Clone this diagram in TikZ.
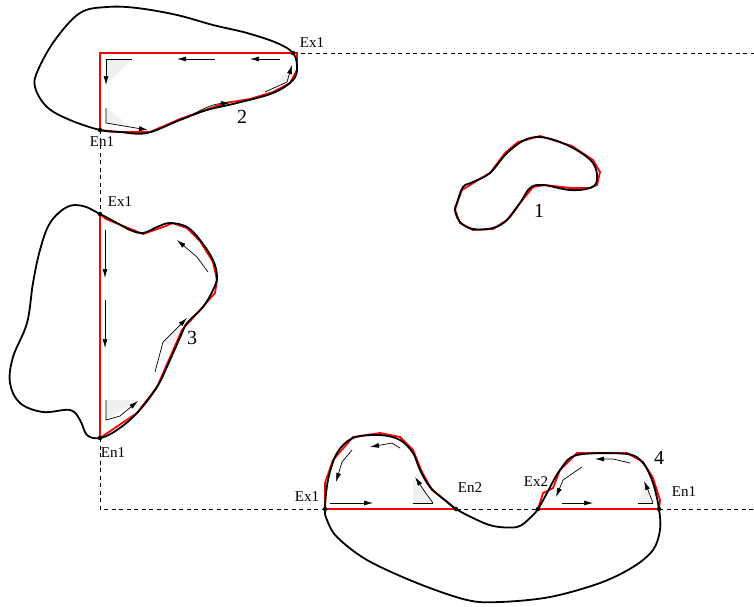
\documentclass[tikz,border=0pt]{standalone}
\usepackage{fontspec}
\setmainfont{Liberation Serif}
\usetikzlibrary{arrows.meta}
\begin{document}
\begin{tikzpicture}[x=1pt,y=-1pt,
  blob/.style={line width=1.8pt,black,line join=round},
  redp/.style={line width=1.8pt,red,line join=miter},
  guide/.style={line width=0.7pt,dash pattern=on 4pt off 3.5pt},
  arr/.style={line width=0.7pt,-{Latex[length=9pt,width=5pt]}},
  shade/.style={fill=gray!12,draw=none},
  lab/.style={font=\fontsize{15}{15}\selectfont,inner sep=0pt},
  num/.style={font=\fontsize{20}{20}\selectfont,inner sep=0pt},
  dot/.style={circle,fill=black,inner sep=0pt,minimum size=4.5pt}]
\useasboundingbox (0,0) rectangle (754,606);
% key points
\coordinate (aex) at (293,53);
\coordinate (aen) at (100,130);
\coordinate (bex) at (100,214);
\coordinate (ben) at (100,438);
\coordinate (cex1) at (325,509);
\coordinate (cen2) at (456,509);
\coordinate (cex2) at (538,509);
\coordinate (cen1) at (659,509);
\coordinate (rtop) at (754,53);
\coordinate (rbot) at (754,509);
% dashed guides
\draw[guide] (aex) -- (rtop);
\draw[guide] (aen) -- (bex);
\draw[guide] (ben) |- (rbot);
% ---------- shape 2 ----------
\fill[shade] (106,59) -- (132,59) -- (106,85) -- cycle;
\fill[shade] (106,108) -- (106,123) -- (133,128) -- cycle;
\fill[shade] (276,83) -- (288,81) -- (293,66) -- cycle;
\draw[redp] (100,53) -- (297,53) -- (297,70) -- (290,83) -- (273,92) -- (250,99) -- (225,103) -- (205,110) -- (180,119) -- (150,132) -- (120,132) -- (aen) -- cycle;
\draw[blob] plot[smooth cycle,tension=0.6] coordinates {(aex) (297,67) (293,80) (273,93) (237,103) (207,110) (180,120) (147,133) (120,132) (aen) (70,120) (47,107) (35,87) (38,70) (55,40) (80,13) (107,7) (137,8) (177,15) (213,25) (247,33) (277,43)};
\draw[arr] (132,59) -- (106,59) -- (106,85);
\draw[arr] (106,108) -- (106,123) -- (148,130);
\draw[arr] (215,59) -- (177,59);
\draw[arr] (280,59) -- (250,59);
\draw[arr] (187,118) .. controls (200,110) and (212,104) .. (230,103);
\draw[arr] (265,92) -- (287,82) -- (292,65);
\node[dot] at (aex) {};
\node[dot] at (aen) {};
\node[lab] (t2ex) at (312,43) {Ex1};
\node[lab] (t2en) at (102,142) {En1};
\node[num] (n2) at (242,117) {2};
% ---------- shape 3 ----------
\fill[shade] (106,400) -- (138,400) -- (106,420) -- cycle;
\fill[shade] (163,342) -- (185,320) -- (173,346) -- cycle;
\draw[redp] (bex) -- (106,219) -- (143,234) -- (166,226) -- (172,223) -- (187,228) -- (200,241) -- (213,262) -- (217,280) -- (215,293) -- (200,310) -- (182,330) -- (157,387) -- (137,413) -- (ben) -- cycle;
\draw[blob] plot[smooth cycle,tension=0.6] coordinates {(bex) (117,223) (130,230) (143,233) (157,227) (170,223) (187,227) (200,240) (213,260) (217,277) (213,290) (203,307) (187,323) (182,333) (170,360) (157,387) (137,413) (117,430) (ben) (87,435) (80,420) (70,410) (43,412) (20,403) (10,383) (13,357) (27,323) (33,283) (40,250) (50,223) (67,207) (83,206)};
\draw[arr] (105,230) -- (105,278);
\draw[arr] (105,300) -- (105,348);
\draw[arr] (106,400) -- (106,420) -- (120,416) -- (138,401);
\draw[arr] (155,372) -- (163,342) -- (187,318);
\draw[arr] (208,272) -- (197,257) -- (177,240);
\node[dot] at (bex) {};
\node[dot] at (ben) {};
\node[lab] (t3ex) at (120,202) {Ex1};
\node[lab] (t3en) at (113,453) {En1};
\node[num] (n3) at (192,338) {3};
% ---------- shape 1 ----------
\draw[redp] (457,203) -- (462,190) -- (478,180) -- (490,173) -- (505,153) -- (518,142) -- (540,136) -- (572,146) -- (593,160) -- (600,172) -- (597,185) -- (590,188) -- (570,188) -- (545,185) -- (533,187) -- (520,203) -- (507,220) -- (493,229) -- (473,230) -- (460,223) -- (455,210) -- cycle;
\draw[blob] plot[smooth cycle,tension=0.6] coordinates {(457,203) (463,187) (473,182) (490,173) (507,153) (527,139) (547,138) (573,148) (593,163) (597,180) (590,188) (570,190) (543,185) (530,188) (520,203) (507,220) (493,228) (473,229) (460,222) (455,210)};
\node[num] (n1) at (539,211) {1};
% ---------- shape 4 ----------
\fill[shade] (413,503) -- (433,503) -- (413,478) -- cycle;
\fill[shade] (638,503) -- (653,503) -- (645,483) -- cycle;
\fill[shade] (392,443) -- (400,448) -- (388,448) -- cycle;
\draw[redp] (cex1) -- (325,483) -- (333,460) -- (353,437) -- (380,433) -- (400,437) -- (413,450) -- (422,472) -- (432,490) -- (445,500) -- (cen2) -- cycle;
\draw[redp] (cex2) -- (543,493) -- (553,488) -- (560,470) -- (577,453) -- (627,453) -- (643,462) -- (653,478) -- (660,500) -- (cen1) -- cycle;
\draw[blob] plot[smooth cycle,tension=0.55] coordinates {(cex1) (328,480) (337,453) (353,438) (380,435) (400,440) (413,453) (420,470) (430,487) (447,502) (cen2) (473,518) (493,526) (517,527) (530,518) (cex2) (547,493) (560,470) (577,455) (627,454) (643,463) (653,483) (cen1) (660,530) (653,550) (633,567) (600,583) (550,597) (500,602) (467,600) (417,583) (367,560) (337,537) (327,520)};
\draw[arr] (330,503) -- (373,503);
\draw[arr] (352,450) -- (342,462) -- (336,482);
\draw[arr] (400,448) -- (392,443) -- (370,447);
\draw[line width=0.7pt] (413,503) -- (433,503);
\draw[arr] (433,503) -- (425,492) -- (415,477);
\draw[arr] (562,503) -- (593,503);
\draw[arr] (582,467) -- (563,480) -- (556,497);
\draw[arr] (630,463) -- (613,459) -- (595,459);
\draw[line width=0.7pt] (638,503) -- (653,503);
\draw[arr] (653,503) -- (648,490) -- (644,481);
\node[dot] at (cex1) {};
\node[dot] at (cen2) {};
\node[dot] at (cex2) {};
\node[dot] at (cen1) {};
\node[lab] (t4ex1) at (307,497) {Ex1};
\node[lab] (t4en2) at (470,488) {En2};
\node[lab] (t4ex2) at (536,482) {Ex2};
\node[lab] (t4en1) at (684,492) {En1};
\node[num] (n4) at (659,458) {4};
\end{tikzpicture}
\end{document}
